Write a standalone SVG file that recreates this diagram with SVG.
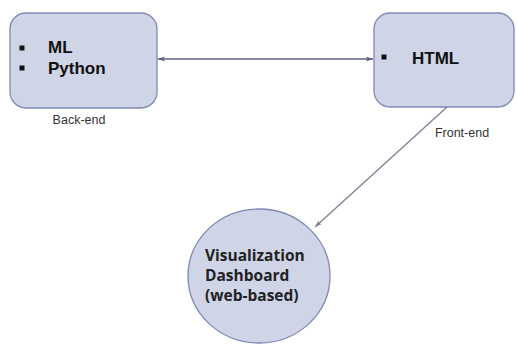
<svg xmlns="http://www.w3.org/2000/svg" width="517" height="345" viewBox="0 0 517 345">
  <defs>
    <marker id="arrow" viewBox="0 0 10 10" refX="10" refY="5" markerWidth="9" markerHeight="7" orient="auto-start-reverse" markerUnits="userSpaceOnUse">
      <path d="M0,1.5 L10,5 L0,8.5 L2.5,5 Z" fill="context-stroke"/>
    </marker>
    <style>
      .node { fill: #cfd4e7; stroke: #8088b4; stroke-width: 1.3; }
      .item { font-family: "Liberation Sans", Arial, sans-serif; font-weight: bold; font-size: 17px; fill: #111; }
      .bullet { fill: #111; }
      .label { font-family: "Liberation Sans", Arial, sans-serif; font-size: 12.5px; fill: #333; }
      .circ { font-family: "Open Sans", "Liberation Sans", sans-serif; font-weight: bold; font-size: 15.5px; fill: #222; }
      .link { fill: none; stroke-width: 1.3; }
    </style>
  </defs>

  <g id="backend">
    <rect class="node" x="10" y="13" width="147" height="95" rx="16" ry="16"/>
    <rect class="bullet" x="19.5" y="45.5" width="5" height="5"/>
    <rect class="bullet" x="19.5" y="65.5" width="5" height="5"/>
    <text class="item" x="48" y="53">ML</text>
    <text class="item" x="48" y="74">Python</text>
    <text class="label" x="79" y="124" text-anchor="middle">Back-end</text>
  </g>

  <g id="frontend">
    <rect class="node" x="374" y="13" width="140" height="94" rx="16" ry="16"/>
    <rect class="bullet" x="381.5" y="54.5" width="5" height="5"/>
    <text class="item" x="412" y="64">HTML</text>
    <text class="label" x="462" y="137" text-anchor="middle">Front-end</text>
  </g>

  <g id="dashboard">
    <ellipse class="node" cx="259" cy="276" rx="71" ry="67"/>
    <text class="circ" x="205" y="261">Visualization</text>
    <text class="circ" x="205" y="281">Dashboard</text>
    <text class="circ" x="205" y="301">(web-based)</text>
  </g>

  <g id="connectors">
    <line class="link" x1="158" y1="59" x2="373" y2="59" stroke="#5c6285" marker-start="url(#arrow)" marker-end="url(#arrow)"/>
    <line class="link" x1="447" y1="107" x2="315" y2="227" stroke="#7d8094" marker-end="url(#arrow)"/>
  </g>
</svg>
